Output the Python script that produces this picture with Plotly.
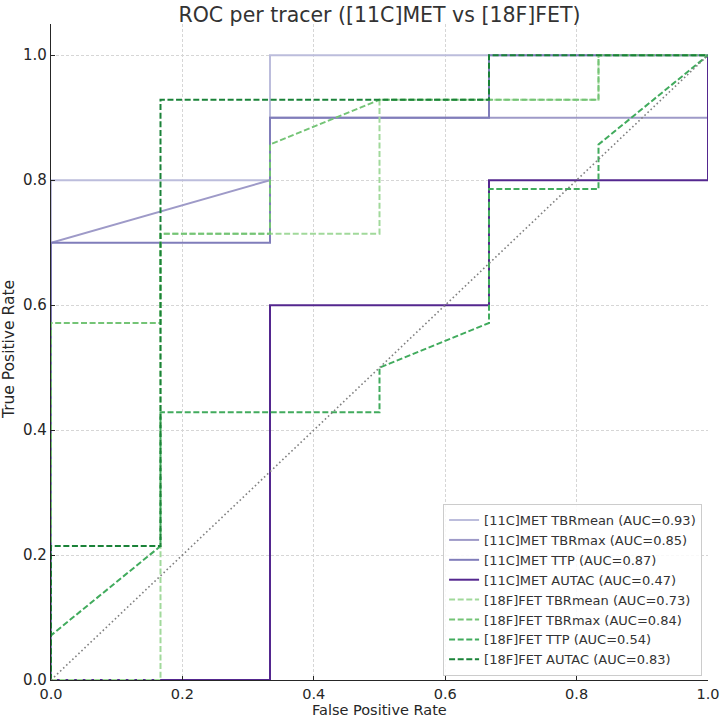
import plotly.graph_objects as go

# ---- data ----
met_labels = ["[11C]MET TBRmean (AUC=0.93)", "[11C]MET TBRmax (AUC=0.85)",
              "[11C]MET TTP (AUC=0.87)", "[11C]MET AUTAC (AUC=0.47)"]
fet_labels = ["[18F]FET TBRmean (AUC=0.73)", "[18F]FET TBRmax (AUC=0.84)",
              "[18F]FET TTP (AUC=0.54)", "[18F]FET AUTAC (AUC=0.83)"]

met_tbrmean_fpr = [0, 0, 1/3, 1/3, 1]
met_tbrmean_tpr = [0, 0.8, 0.8, 1.0, 1.0]
met_tbrmax_fpr = [0, 0, 1/3, 1/3, 1, 1]
met_tbrmax_tpr = [0, 0.7, 0.8, 0.9, 0.9, 1.0]
met_ttp_fpr = [0, 0, 1/3, 1/3, 2/3, 2/3, 1]
met_ttp_tpr = [0, 0.7, 0.7, 0.9, 0.9, 1.0, 1.0]
met_autac_fpr = [0, 1/3, 1/3, 2/3, 2/3, 1, 1]
met_autac_tpr = [0, 0, 0.6, 0.6, 0.8, 0.8, 1.0]

fet_tbrmean_fpr = [0, 1/6, 1/6, 1/2, 1/2, 5/6, 5/6, 1]
fet_tbrmean_tpr = [0, 0, 10/14, 10/14, 13/14, 13/14, 1.0, 1.0]
fet_tbrmax_fpr = [0, 0, 1/6, 1/6, 1/3, 1/3, 1/2, 5/6, 5/6, 1]
fet_tbrmax_tpr = [0, 8/14, 8/14, 10/14, 10/14, 12/14, 13/14, 13/14, 1.0, 1.0]
fet_ttp_fpr = [0, 0, 1/6, 1/6, 1/2, 1/2, 2/3, 2/3, 5/6, 5/6, 1]
fet_ttp_tpr = [0, 1/14, 3/14, 6/14, 6/14, 7/14, 8/14, 11/14, 11/14, 12/14, 1.0]
fet_autac_fpr = [0, 0, 1/6, 1/6, 2/3, 2/3, 1]
fet_autac_tpr = [0, 3/14, 3/14, 13/14, 13/14, 1.0, 1.0]

chance = [0, 1]
tick_vals = [0, 0.2, 0.4, 0.6, 0.8, 1.0]

met_curves = [(met_tbrmean_fpr, met_tbrmean_tpr), (met_tbrmax_fpr, met_tbrmax_tpr),
              (met_ttp_fpr, met_ttp_tpr), (met_autac_fpr, met_autac_tpr)]
fet_curves = [(fet_tbrmean_fpr, fet_tbrmean_tpr), (fet_tbrmax_fpr, fet_tbrmax_tpr),
              (fet_ttp_fpr, fet_ttp_tpr), (fet_autac_fpr, fet_autac_tpr)]

met_colors = ["#bcbddc", "#9e9ac8", "#807dba", "#54278f"]
fet_colors = ["#a1d99b", "#74c476", "#41ab5d", "#1a8238"]

fig = go.Figure()
for (x, y), name, c in zip(met_curves, met_labels, met_colors):
    fig.add_trace(go.Scatter(x=x, y=y, mode="lines", name=name,
                             line=dict(color=c, width=2)))
for (x, y), name, c in zip(fet_curves, fet_labels, fet_colors):
    fig.add_trace(go.Scatter(x=x, y=y, mode="lines", name=name,
                             line=dict(color=c, width=2, dash="6px,2.6px")))
fig.add_trace(go.Scatter(x=chance, y=chance, mode="lines", showlegend=False,
                         line=dict(color="gray", width=1.6, dash="1.6px,2.6px")))

font_family = "DejaVu Sans"
fig.update_layout(
    width=720, height=718,
    margin=dict(l=51, r=12, t=24, b=38),
    paper_bgcolor="white", plot_bgcolor="white",
    font=dict(family=font_family, size=13, color="#262626"),
    title=dict(text="ROC per tracer ([11C]MET vs [18F]FET)", x=(51 + 708) / 2 / 720,
               xanchor="center", y=0.99, yanchor="top",
               font=dict(size=20.5, color="#333333")),
    legend=dict(x=0.991, y=0.006, xanchor="right", yanchor="bottom",
                bgcolor="rgba(255,255,255,0.85)", bordercolor="#cccccc", borderwidth=1,
                font=dict(size=13, color="#333333"), itemwidth=30,
                tracegroupgap=0),
    showlegend=True,
    annotations=[
        dict(text="False Positive Rate", xref="paper", yref="paper",
             x=0.5, y=(680 - 709.5) / 656, xanchor="center", yanchor="middle",
             showarrow=False, font=dict(size=14.5, color="#262626")),
        dict(text="True Positive Rate", xref="paper", yref="paper",
             x=(9 - 51) / 657, y=0.503, xanchor="center", yanchor="middle",
             textangle=-90, showarrow=False, font=dict(size=15.5, color="#262626")),
    ],
)
fig.update_xaxes(range=[0, 1], tickvals=tick_vals, tickformat=".1f",
                 showgrid=True, gridcolor="#d6d6d6", griddash="3px,2px", gridwidth=0.8,
                 showline=True, linecolor="#262626", linewidth=1.2,
                 ticks="inside", ticklen=4, tickcolor="#262626",
                 tickfont=dict(size=14.5), ticklabeloverflow="allow",
                 zeroline=False, automargin=False)
fig.update_yaxes(range=[0, 1.05], tickvals=tick_vals, tickformat=".1f",
                 showgrid=True, gridcolor="#d6d6d6", griddash="3px,2px", gridwidth=0.8,
                 showline=True, linecolor="#262626", linewidth=1.2,
                 ticks="inside", ticklen=4, tickcolor="#262626",
                 tickfont=dict(size=15), ticklabeloverflow="allow",
                 zeroline=False, automargin=False)

fig.write_html("out.html")
